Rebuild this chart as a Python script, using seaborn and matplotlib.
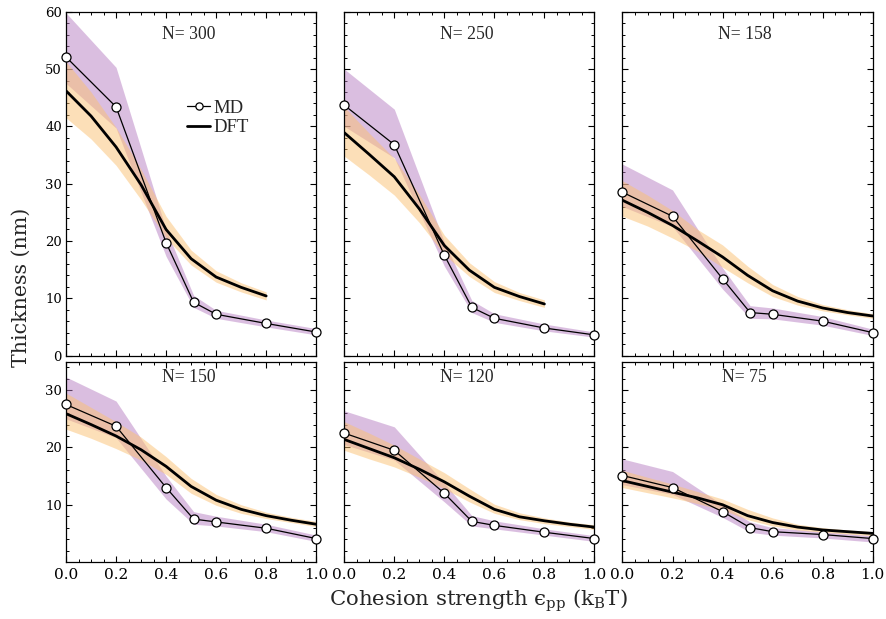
import numpy as np
import pandas as pd
import matplotlib
matplotlib.use("Agg")
import matplotlib.pyplot as plt
import seaborn as sns
from matplotlib.ticker import MultipleLocator, FormatStrFormatter, FixedLocator

# ---------------- data ----------------
panels = ["N= 300", "N= 250", "N= 158", "N= 150", "N= 120", "N= 75"]

md_x = [0.0, 0.2, 0.4, 0.51, 0.6, 0.8, 1.0]

md_y_300 = [52.1, 43.4, 19.7, 9.3, 7.2, 5.6, 4.1]
md_lo_300 = [47.5, 39.7, 17.3, 8.4, 6.5, 5.0, 3.6]
md_hi_300 = [59.8, 50.3, 22.0, 10.5, 7.9, 6.2, 4.7]

md_y_250 = [43.7, 36.8, 17.5, 8.4, 6.5, 4.8, 3.6]
md_lo_250 = [40.0, 34.5, 15.6, 7.5, 5.8, 4.3, 3.2]
md_hi_250 = [50.0, 43.0, 19.8, 9.6, 7.3, 5.5, 4.1]

md_y_158 = [28.5, 24.3, 13.4, 7.5, 7.2, 6.0, 4.0]
md_lo_158 = [26.0, 22.5, 11.6, 6.5, 6.4, 5.3, 3.5]
md_hi_158 = [33.4, 28.9, 15.3, 8.7, 8.3, 6.8, 4.6]

md_y_150 = [27.5, 23.7, 13.0, 7.5, 7.0, 5.9, 4.1]
md_lo_150 = [25.0, 21.7, 11.0, 6.6, 6.3, 5.3, 3.6]
md_hi_150 = [32.3, 28.1, 15.0, 8.8, 8.0, 6.6, 4.7]

md_y_120 = [22.5, 19.5, 12.0, 7.1, 6.4, 5.2, 4.1]
md_lo_120 = [20.5, 17.8, 10.5, 6.3, 5.8, 4.7, 3.6]
md_hi_120 = [26.4, 23.6, 13.8, 8.1, 7.2, 5.8, 4.6]

md_y_75 = [15.1, 13.0, 8.8, 6.0, 5.3, 4.8, 4.1]
md_lo_75 = [13.5, 11.8, 7.8, 5.2, 4.7, 4.2, 3.5]
md_hi_75 = [18.0, 15.8, 10.0, 7.0, 6.0, 5.3, 4.6]

dft_x_short = [0.0, 0.1, 0.2, 0.3, 0.4, 0.5, 0.6, 0.7, 0.8]
dft_x_long = [0.0, 0.1, 0.2, 0.3, 0.4, 0.5, 0.6, 0.7, 0.8, 0.9, 1.0]

dft_y_300 = [46.2, 41.8, 36.4, 29.8, 22.0, 16.9, 13.7, 11.9, 10.4]
dft_lo_300 = [41.5, 37.8, 33.2, 27.2, 20.5, 15.8, 12.8, 11.1, 9.7]
dft_hi_300 = [51.3, 46.0, 39.8, 32.5, 24.3, 18.4, 14.8, 12.7, 11.1]

dft_y_250 = [38.9, 35.1, 31.2, 25.6, 19.2, 14.9, 11.9, 10.3, 9.0]
dft_lo_250 = [34.8, 31.5, 28.0, 23.2, 17.6, 13.8, 11.0, 9.6, 8.4]
dft_hi_250 = [43.4, 38.8, 34.4, 28.1, 21.0, 16.2, 12.9, 11.0, 9.7]

dft_y_158 = [27.1, 25.0, 22.7, 20.0, 17.2, 14.0, 11.3, 9.5, 8.3, 7.5, 6.9]
dft_lo_158 = [24.3, 22.6, 20.5, 18.2, 15.4, 12.7, 10.3, 8.8, 7.8, 7.1, 6.5]
dft_hi_158 = [30.5, 28.0, 25.3, 22.0, 19.3, 15.6, 12.4, 10.3, 8.9, 8.0, 7.3]

dft_y_150 = [25.9, 24.0, 22.0, 19.6, 16.7, 13.2, 10.8, 9.2, 8.1, 7.3, 6.6]
dft_lo_150 = [23.2, 21.6, 19.8, 17.8, 15.3, 12.0, 9.9, 8.5, 7.6, 6.9, 6.2]
dft_hi_150 = [29.5, 27.0, 24.5, 21.8, 18.4, 14.6, 11.8, 10.0, 8.7, 7.8, 7.1]

dft_y_120 = [21.4, 19.8, 18.2, 16.2, 14.0, 11.5, 9.2, 7.9, 7.2, 6.6, 6.1]
dft_lo_120 = [19.5, 18.0, 16.6, 14.8, 12.8, 10.5, 8.5, 7.4, 6.7, 6.2, 5.7]
dft_hi_120 = [24.5, 22.5, 20.4, 18.0, 15.6, 12.8, 10.1, 8.6, 7.7, 7.0, 6.5]

dft_y_75 = [14.2, 13.2, 12.2, 11.2, 10.0, 8.1, 6.9, 6.1, 5.6, 5.3, 5.0]
dft_lo_75 = [13.0, 12.1, 11.2, 10.2, 9.1, 7.4, 6.3, 5.6, 5.2, 4.9, 4.6]
dft_hi_75 = [16.0, 14.8, 13.6, 12.3, 11.0, 9.2, 7.7, 6.6, 6.0, 5.6, 5.3]

x_ticks = [0.0, 0.2, 0.4, 0.6, 0.8, 1.0]

md_sets = [(md_y_300, md_lo_300, md_hi_300), (md_y_250, md_lo_250, md_hi_250),
           (md_y_158, md_lo_158, md_hi_158), (md_y_150, md_lo_150, md_hi_150),
           (md_y_120, md_lo_120, md_hi_120), (md_y_75, md_lo_75, md_hi_75)]
dft_sets = [(dft_x_short, dft_y_300, dft_lo_300, dft_hi_300),
            (dft_x_short, dft_y_250, dft_lo_250, dft_hi_250),
            (dft_x_long, dft_y_158, dft_lo_158, dft_hi_158),
            (dft_x_long, dft_y_150, dft_lo_150, dft_hi_150),
            (dft_x_long, dft_y_120, dft_lo_120, dft_hi_120),
            (dft_x_long, dft_y_75, dft_lo_75, dft_hi_75)]

# ---------------- style ----------------
sns.set_theme(style="white")
plt.rcParams["font.family"] = ["DejaVu Serif"]
plt.rcParams["mathtext.fontset"] = "dejavuserif"
plt.rcParams["axes.edgecolor"] = "black"
plt.rcParams["axes.linewidth"] = 0.9

PURPLE = "#b77fc2"
ORANGE = "#fbc172"

fig = plt.figure(figsize=(8.86, 6.19), dpi=100)
gs = fig.add_gridspec(2, 3, height_ratios=[60, 35], left=0.0745, right=0.985,
                      top=0.981, bottom=0.092, wspace=0.112, hspace=0.022)

for i in range(6):
    r, c = divmod(i, 3)
    ax = fig.add_subplot(gs[r, c])
    my, mlo, mhi = md_sets[i]
    dx, dy, dlo, dhi = dft_sets[i]

    ax.fill_between(md_x, mlo, mhi, color=PURPLE, alpha=0.5, lw=0)
    ax.fill_between(dx, dlo, dhi, color=ORANGE, alpha=0.5, lw=0)

    df_md = pd.DataFrame({"x": md_x, "y": my})
    df_dft = pd.DataFrame({"x": dx, "y": dy})
    sns.lineplot(data=df_md, x="x", y="y", ax=ax, color="black", lw=0.9,
                 marker="o", markersize=6.5, markerfacecolor="white",
                 markeredgecolor="black", markeredgewidth=0.9,
                 label="MD", clip_on=False, zorder=5)
    sns.lineplot(data=df_dft, x="x", y="y", ax=ax, color="black", lw=2.0,
                 label="DFT", zorder=4)

    ax.set_xlim(0, 1)
    if r == 0:
        ax.set_ylim(0, 60)
        ax.yaxis.set_major_locator(MultipleLocator(10))
    else:
        ax.set_ylim(0, 35)
        ax.yaxis.set_major_locator(FixedLocator([10, 20, 30]))
    ax.yaxis.set_minor_locator(MultipleLocator(2))
    ax.xaxis.set_major_locator(FixedLocator(x_ticks))
    ax.xaxis.set_major_formatter(FormatStrFormatter("%.1f"))
    ax.xaxis.set_minor_locator(MultipleLocator(0.05))
    ax.tick_params(which="both", direction="in", top=True, right=True,
                   bottom=True, left=True, colors="black")
    ax.tick_params(axis="y", labelsize=9.5, pad=3)
    ax.tick_params(axis="x", labelsize=11, pad=4)
    ax.tick_params(which="major", length=4, width=0.8)
    ax.tick_params(which="minor", length=2, width=0.7)
    ax.set_xlabel("")
    ax.set_ylabel("")
    if r == 0:
        ax.tick_params(labelbottom=False)
    if c != 0:
        ax.tick_params(labelleft=False)

    off = -16.5 if r == 0 else -11.5
    ax.annotate(panels[i], xy=(0.5, 1.0), xycoords="axes fraction",
                xytext=(-2, off), textcoords="offset points", ha="center",
                va="center", fontsize=12.7, family=["Liberation Serif"])

    if i == 0:
        ax.legend(loc="upper left", bbox_to_anchor=(0.485, 0.745), frameon=False,
                  borderpad=0, borderaxespad=0, handlelength=1.2,
                  handletextpad=0.2, labelspacing=0.15,
                  prop={"family": "Liberation Serif", "size": 13.5},
                  markerscale=0.8)
    else:
        leg = ax.get_legend()
        if leg is not None:
            leg.remove()

fig.text(0.024, 0.535, "Thickness (nm)", rotation=90, ha="center", va="center",
         fontsize=14.8)
fig.text(0.54, 0.029, "Cohesion strength \u03f5$_{\\rm pp}$ (k$_{\\rm B}$T)",
         ha="center", va="center", fontsize=15.3)

fig.savefig("out.png", dpi=100)
